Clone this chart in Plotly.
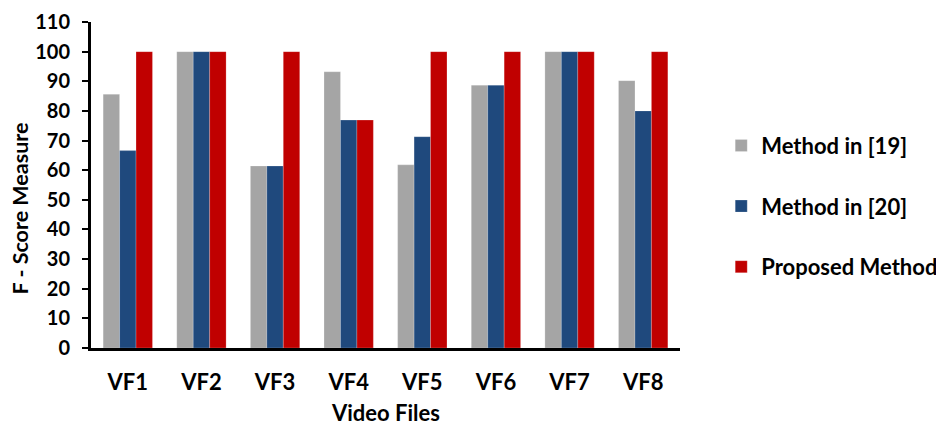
import plotly.graph_objects as go

FILES = ["VF1", "VF2", "VF3", "VF4", "VF5", "VF6", "VF7", "VF8"]
M19 = [85.6, 100, 61.4, 93.2, 61.8, 88.7, 100, 90.2]
M20 = [66.6, 100, 61.4, 76.9, 71.3, 88.7, 100, 80.0]
PROPOSED = [100, 100, 100, 76.9, 100, 100, 100, 100]

SERIES = [("Method in [19]", M19, "#A5A5A5"),
          ("Method in [20]", M20, "#1F497D"),
          ("Proposed Method", PROPOSED, "#C00000")]

FONT = "Lato, 'Liberation Sans', sans-serif"

fig = go.Figure()
for i, (name, vals, col) in enumerate(SERIES):
    fig.add_trace(go.Bar(x=FILES, y=vals, name=name, marker_color=col,
                         marker_line=dict(color="rgba(255,255,255,0.4)", width=0.5),
                         legendgroup=f"g{i}"))

# page body has an 8px margin, so the figure is laid out 8px up/left of the screen target
fig.update_layout(
    width=944, height=428, barmode="group", bargap=0.33, bargroupgap=0,
    plot_bgcolor="white", paper_bgcolor="white",
    margin=dict(l=83, r=272, t=14, b=88, autoexpand=False),
    font=dict(family=FONT, size=22, color="black"),
    xaxis=dict(showline=True, linecolor="black", linewidth=3, ticks="",
               automargin=False, ticklabelstandoff=13,
               tickfont=dict(family=FONT, size=22, color="black", weight="bold")),
    yaxis=dict(range=[0, 110], dtick=10, showgrid=False, zeroline=False,
               showline=True, linecolor="black", linewidth=3, automargin=False,
               ticks="outside", ticklen=6, tickwidth=2, tickcolor="black",
               ticklabelstandoff=8,
               tickfont=dict(family=FONT, size=20, color="black", weight="bold")),
    legend=dict(x=1.07, xanchor="left", y=0.435, yanchor="middle",
                traceorder="grouped", tracegroupgap=29,
                font=dict(family=FONT, size=22, color="black", weight="bold")),
    annotations=[
        dict(text="<b>Video Files</b>", xref="paper", yref="paper", x=0.5, y=-0.199,
             xanchor="center", yanchor="middle", showarrow=False,
             font=dict(family=FONT, size=22, color="black")),
        dict(text="<b>F - Score Measure</b>", xref="paper", yref="paper", x=-0.12, y=0.429,
             xanchor="center", yanchor="middle", textangle=-90, showarrow=False,
             font=dict(family=FONT, size=21.5, color="black")),
    ],
)

fig.write_html("out.html")
